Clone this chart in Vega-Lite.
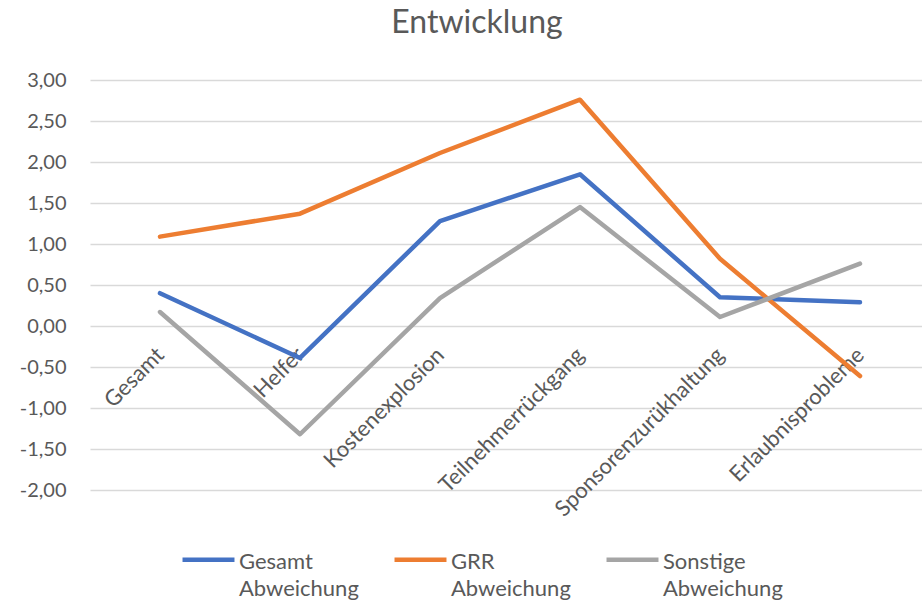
{
  "$schema": "https://vega.github.io/schema/vega-lite/v6.json",
  "width": 840,
  "height": 410,
  "autosize": {"type": "none"},
  "padding": {"left": 90, "top": 80, "right": 0, "bottom": 110},
  "background": "white",
  "config": {
    "view": {"stroke": null},
    "font": "Lato",
    "axis": {"labelFont": "Lato", "labelColor": "#595959"},
    "legend": {"labelFont": "Lato", "labelColor": "#595959"},
    "style": {"guide-label": {"lineHeight": 27}}
  },
  "title": {
    "text": "Entwicklung",
    "font": "Lato",
    "fontSize": 32,
    "fontWeight": "normal",
    "color": "#595959",
    "anchor": "middle",
    "dx": -33,
    "offset": 30
  },
  "data": {
    "values": [
      {"kategorie": "Gesamt", "serie": "Gesamt Abweichung", "wert": 0.40},
      {"kategorie": "Helfer", "serie": "Gesamt Abweichung", "wert": -0.39},
      {"kategorie": "Kostenexplosion", "serie": "Gesamt Abweichung", "wert": 1.28},
      {"kategorie": "Teilnehmerrückgang", "serie": "Gesamt Abweichung", "wert": 1.85},
      {"kategorie": "Sponsorenzurükhaltung", "serie": "Gesamt Abweichung", "wert": 0.35},
      {"kategorie": "Erlaubnisprobleme", "serie": "Gesamt Abweichung", "wert": 0.29},
      {"kategorie": "Gesamt", "serie": "GRR Abweichung", "wert": 1.09},
      {"kategorie": "Helfer", "serie": "GRR Abweichung", "wert": 1.37},
      {"kategorie": "Kostenexplosion", "serie": "GRR Abweichung", "wert": 2.11},
      {"kategorie": "Teilnehmerrückgang", "serie": "GRR Abweichung", "wert": 2.76},
      {"kategorie": "Sponsorenzurükhaltung", "serie": "GRR Abweichung", "wert": 0.82},
      {"kategorie": "Erlaubnisprobleme", "serie": "GRR Abweichung", "wert": -0.61},
      {"kategorie": "Gesamt", "serie": "Sonstige Abweichung", "wert": 0.17},
      {"kategorie": "Helfer", "serie": "Sonstige Abweichung", "wert": -1.32},
      {"kategorie": "Kostenexplosion", "serie": "Sonstige Abweichung", "wert": 0.34},
      {"kategorie": "Teilnehmerrückgang", "serie": "Sonstige Abweichung", "wert": 1.45},
      {"kategorie": "Sponsorenzurükhaltung", "serie": "Sonstige Abweichung", "wert": 0.11},
      {"kategorie": "Erlaubnisprobleme", "serie": "Sonstige Abweichung", "wert": 0.76}
    ]
  },
  "mark": {"type": "line", "strokeWidth": 4.5, "strokeCap": "round", "strokeJoin": "round"},
  "encoding": {
    "x": {
      "field": "kategorie",
      "type": "nominal",
      "sort": ["Gesamt", "Helfer", "Kostenexplosion", "Teilnehmerrückgang", "Sponsorenzurükhaltung", "Erlaubnisprobleme"],
      "scale": {"type": "point", "padding": 0.5},
      "axis": {
        "title": null,
        "orient": "bottom",
        "offset": -164,
        "domain": false,
        "ticks": false,
        "grid": false,
        "labelAngle": -45,
        "labelAlign": "right",
        "labelBaseline": "middle",
        "labelFontSize": 22,
        "labelPadding": 25,
        "labelOverlap": false,
        "labelLimit": 400
      }
    },
    "y": {
      "field": "wert",
      "type": "quantitative",
      "scale": {"domain": [-2, 3], "nice": false, "zero": false},
      "axis": {
        "title": null,
        "values": [-2, -1.5, -1, -0.5, 0, 0.5, 1, 1.5, 2, 2.5, 3],
        "labelExpr": "replace(replace(format(datum.value, '.2f'), '.', ','), '\u2212', '-')",
        "domain": false,
        "ticks": false,
        "labelFontSize": 20,
        "labelPadding": 24,
        "gridColor": "#d9d9d9",
        "gridWidth": 1.3
      }
    },
    "color": {
      "field": "serie",
      "type": "nominal",
      "scale": {
        "domain": ["Gesamt Abweichung", "GRR Abweichung", "Sonstige Abweichung"],
        "range": ["#4472C4", "#ED7D31", "#A5A5A5"]
      },
      "legend": {
        "title": null,
        "orient": "none",
        "direction": "horizontal",
        "legendX": 90,
        "legendY": 451,
        "symbolType": "stroke",
        "symbolSize": 2700,
        "symbolStrokeWidth": 4.5,
        "labelFontSize": 22,
        "labelOffset": 2,
        "labelBaseline": "alphabetic",
        "labelLimit": 300,
        "columnPadding": 26,
        "labelExpr": "split(datum.label, ' ')",
        "encode": {"labels": {"update": {"dy": {"value": 9}}}}
      }
    }
  }
}
